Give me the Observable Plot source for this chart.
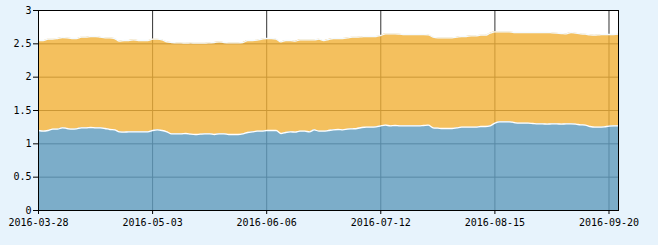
<!DOCTYPE html>
<html>
<head>
<meta charset="utf-8">
<script src="https://cdn.jsdelivr.net/npm/d3@7"></script>
<script src="https://cdn.jsdelivr.net/npm/@observablehq/plot@0.6"></script>
<style>
html, body { margin: 0; padding: 0; background: #e7f3fc; }
#chart { width: 658px; height: 245px; }
</style>
</head>
<body>
<div id="chart"></div>
<script>
// x positions are trading-day indexes; ticks every 24 trading days
const tickIndex = [0, 24, 48, 72, 96, 120];
const tickLabels = ["2016-03-28", "2016-05-03", "2016-06-06", "2016-07-12", "2016-08-15", "2016-09-20"];
const yTicks = [0, 0.5, 1, 1.5, 2, 2.5, 3];

// bottom (blue) series
const seriesBlue = [
  1.20,1.19,1.20,1.22,1.22,1.24,1.23,1.22,1.225,1.24,
  1.24,1.245,1.24,1.24,1.23,1.215,1.21,1.18,1.175,1.18,
  1.18,1.18,1.18,1.18,1.20,1.21,1.20,1.18,1.15,1.15,
  1.15,1.155,1.145,1.14,1.145,1.15,1.15,1.14,1.15,1.15,
  1.14,1.14,1.14,1.15,1.17,1.18,1.19,1.19,1.20,1.20,
  1.20,1.155,1.17,1.18,1.175,1.19,1.19,1.18,1.21,1.19,
  1.19,1.20,1.21,1.215,1.21,1.22,1.225,1.23,1.245,1.25,
  1.25,1.255,1.27,1.28,1.27,1.275,1.27,1.27,1.27,1.27,
  1.27,1.275,1.28,1.24,1.235,1.23,1.23,1.23,1.24,1.25,
  1.25,1.25,1.25,1.26,1.26,1.27,1.31,1.33,1.33,1.33,
  1.32,1.31,1.31,1.31,1.305,1.30,1.30,1.295,1.30,1.30,
  1.295,1.30,1.30,1.295,1.285,1.28,1.26,1.25,1.25,1.255,
  1.265,1.27,1.27
];
// stacked total (top of orange series)
const seriesTotal = [
  2.55,2.55,2.57,2.57,2.58,2.595,2.59,2.58,2.58,2.60,
  2.60,2.61,2.61,2.60,2.59,2.59,2.58,2.54,2.55,2.55,
  2.56,2.55,2.55,2.55,2.57,2.57,2.56,2.53,2.52,2.515,
  2.515,2.51,2.515,2.51,2.51,2.51,2.515,2.52,2.53,2.52,
  2.515,2.515,2.515,2.52,2.55,2.55,2.555,2.57,2.58,2.58,
  2.57,2.53,2.55,2.55,2.54,2.56,2.56,2.56,2.56,2.57,
  2.55,2.565,2.58,2.58,2.58,2.59,2.60,2.60,2.605,2.61,
  2.61,2.61,2.625,2.65,2.65,2.65,2.645,2.64,2.64,2.64,
  2.64,2.64,2.635,2.60,2.59,2.59,2.59,2.59,2.60,2.61,
  2.61,2.62,2.62,2.63,2.63,2.66,2.68,2.68,2.68,2.68,
  2.67,2.67,2.67,2.67,2.67,2.67,2.67,2.67,2.665,2.66,
  2.655,2.65,2.67,2.66,2.65,2.645,2.635,2.63,2.635,2.64,
  2.64,2.64,2.645
];

const data = seriesBlue.map((b, i) => ({i, blue: b, total: seriesTotal[i]}));

const chart = Plot.plot({
  width: 658,
  height: 245,
  marginLeft: 38,
  marginRight: 40,
  marginTop: 10,
  marginBottom: 35,
  style: {background: "transparent", color: "black", fontFamily: "'DejaVu Sans Mono', monospace", fontSize: "10px"},
  x: {domain: [0, seriesBlue.length - 1], label: null},
  y: {domain: [0, 3], label: null},
  marks: [
    Plot.frame({fill: "white", stroke: null}),
    Plot.ruleX(tickIndex, {stroke: "#333", strokeWidth: 1}),
    Plot.ruleY(yTicks.filter(d => d > 0 && d < 3), {stroke: "#333", strokeWidth: 1}),
    Plot.areaY(data, {x: "i", y1: 0, y2: "blue", fill: "#5f9bbd", fillOpacity: 0.82, curve: "monotone-x"}),
    Plot.areaY(data, {x: "i", y1: "blue", y2: "total", fill: "#f1b036", fillOpacity: 0.8, curve: "monotone-x"}),
    Plot.lineY(data, {x: "i", y: "blue", stroke: "white", strokeWidth: 1.3, curve: "monotone-x"}),
    Plot.lineY(data, {x: "i", y: "total", stroke: "#f4faff", strokeWidth: 1.3, curve: "monotone-x"}),
    Plot.axisX(tickIndex, {
      label: null,
      tickFormat: d => tickLabels[tickIndex.indexOf(d)],
      tickSize: 4, tickPadding: 4, stroke: "black", fill: "black"
    }),
    Plot.axisY(yTicks, {
      label: null,
      tickFormat: d => String(d),
      tickSize: 5, tickPadding: 2, stroke: "black", fill: "black"
    }),
    Plot.frame({stroke: "black", strokeWidth: 1})
  ]
});
document.getElementById("chart").appendChild(chart);
</script>
</body>
</html>
